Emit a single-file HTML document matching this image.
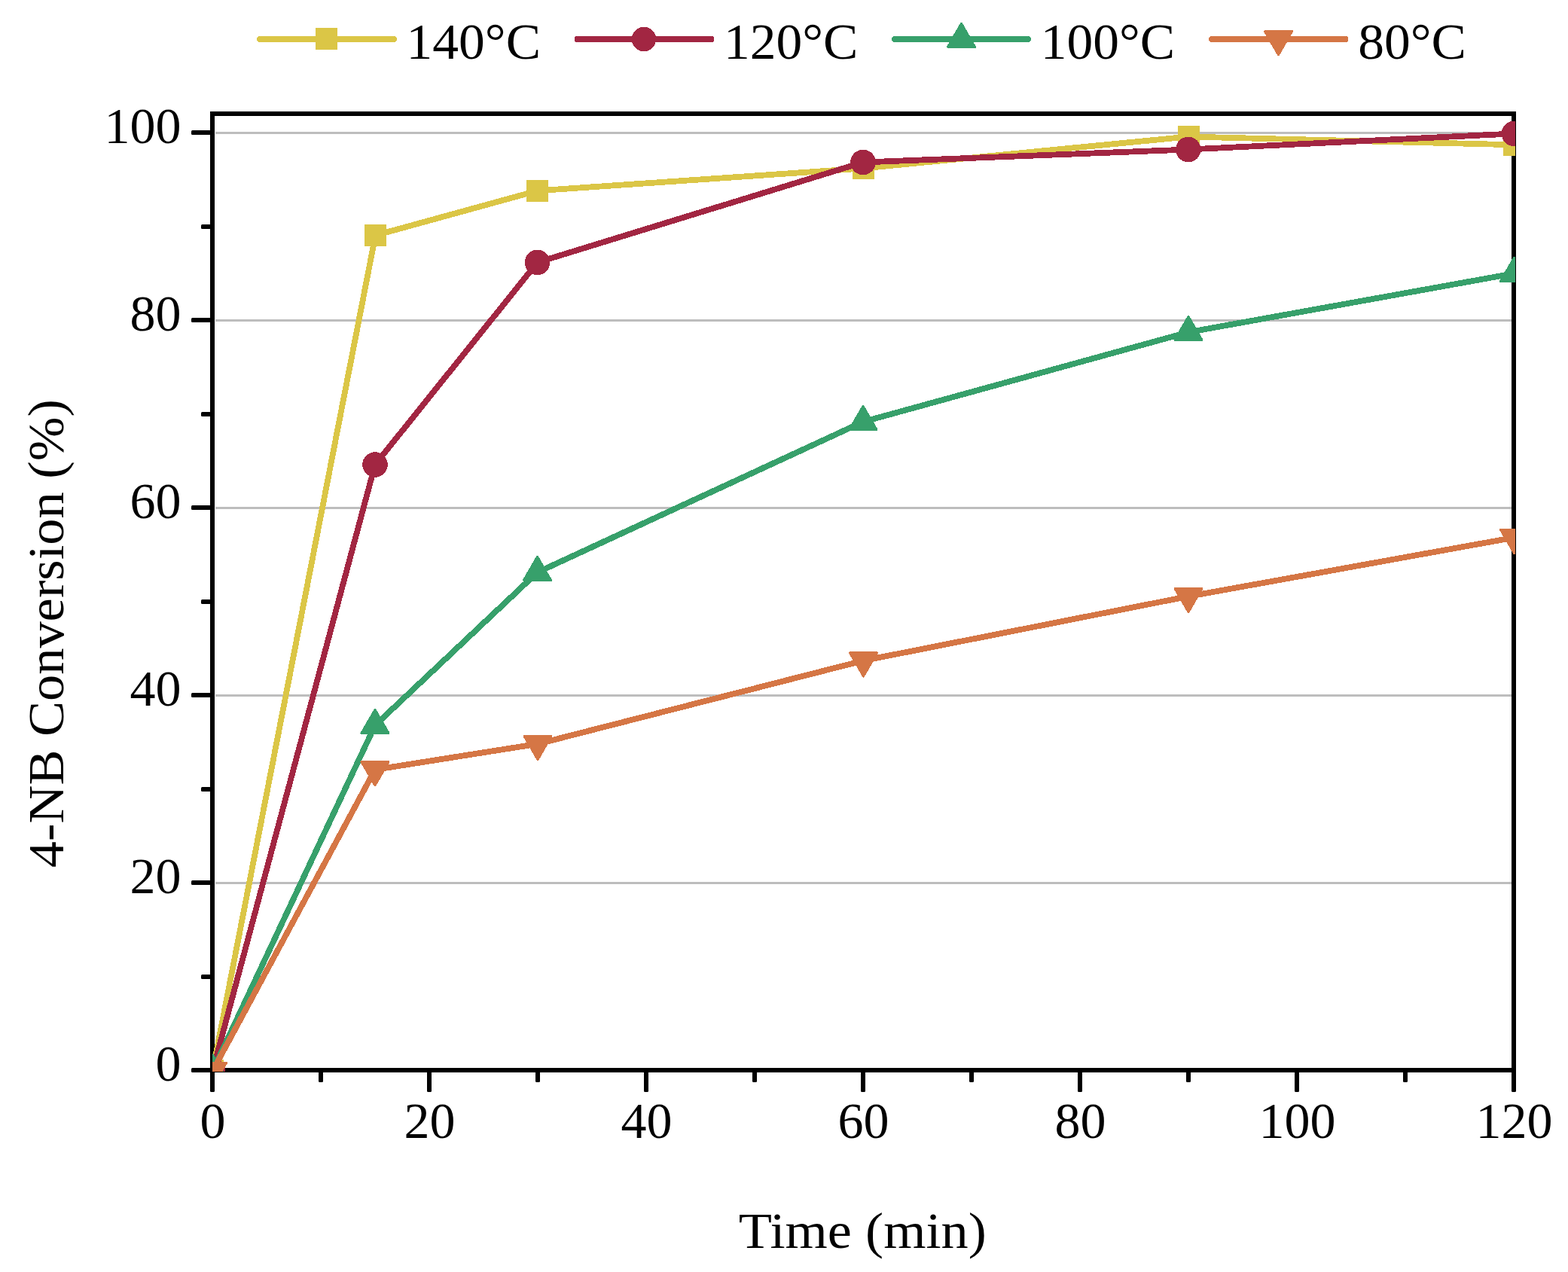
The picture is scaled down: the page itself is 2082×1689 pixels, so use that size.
<!DOCTYPE html>
<html lang="en"><head><meta charset="utf-8"><title>4-NB Conversion vs Time</title>
<style>html,body{margin:0;padding:0;background:#fff}body{width:2082px;height:1689px;overflow:hidden}svg{display:block}</style>
</head><body>
<svg width="2082" height="1689" viewBox="0 0 2082 1689">
<rect width="2082" height="1689" fill="#fff"/>
<defs><clipPath id="cp"><rect x="282" y="148" width="1730" height="1275"/></clipPath></defs>
<rect x="286" y="1171" width="1721" height="3" fill="#bdbdbd"/>
<rect x="286" y="922" width="1721" height="3" fill="#bdbdbd"/>
<rect x="286" y="673" width="1721" height="3" fill="#bdbdbd"/>
<rect x="286" y="424" width="1721" height="3" fill="#bdbdbd"/>
<rect x="286" y="175" width="1721" height="3" fill="#bdbdbd"/>
<g fill="#000">
<rect x="279" y="148" width="6" height="1276"/>
<rect x="2007" y="148" width="6" height="1276"/>
<rect x="279" y="148" width="1734" height="6"/>
<rect x="279" y="1418" width="1734" height="6"/>
</g>
<g fill="#000">
<rect x="254" y="1418" width="26" height="6" rx="1.5"/>
<rect x="267" y="1294" width="13" height="6" rx="1.5"/>
<rect x="254" y="1169" width="26" height="6" rx="1.5"/>
<rect x="267" y="1045" width="13" height="6" rx="1.5"/>
<rect x="254" y="920" width="26" height="6" rx="1.5"/>
<rect x="267" y="796" width="13" height="6" rx="1.5"/>
<rect x="254" y="671" width="26" height="6" rx="1.5"/>
<rect x="267" y="547" width="13" height="6" rx="1.5"/>
<rect x="254" y="422" width="26" height="6" rx="1.5"/>
<rect x="267" y="298" width="13" height="6" rx="1.5"/>
<rect x="254" y="173" width="26" height="6" rx="1.5"/>
<rect x="279" y="1422" width="6" height="28" rx="1.5"/>
<rect x="423" y="1422" width="6" height="15" rx="1.5"/>
<rect x="567" y="1422" width="6" height="28" rx="1.5"/>
<rect x="711" y="1422" width="6" height="15" rx="1.5"/>
<rect x="855" y="1422" width="6" height="28" rx="1.5"/>
<rect x="999" y="1422" width="6" height="15" rx="1.5"/>
<rect x="1143" y="1422" width="6" height="28" rx="1.5"/>
<rect x="1287" y="1422" width="6" height="15" rx="1.5"/>
<rect x="1431" y="1422" width="6" height="28" rx="1.5"/>
<rect x="1575" y="1422" width="6" height="15" rx="1.5"/>
<rect x="1719" y="1422" width="6" height="28" rx="1.5"/>
<rect x="1863" y="1422" width="6" height="15" rx="1.5"/>
<rect x="2007" y="1422" width="6" height="28" rx="1.5"/>
</g>
<g clip-path="url(#cp)" shape-rendering="crispEdges">
<polyline points="282.5,1421.5 498.5,312.5 713.6,253.3 1146.1,223.5 1578.0,181.5 2010.5,192.3" fill="none" stroke="#DBC646" stroke-width="7.8" stroke-linejoin="round" stroke-linecap="round"/>
<rect x="268.0" y="1407.0" width="29" height="29" fill="#DBC646"/>
<rect x="484.0" y="298.0" width="29" height="29" fill="#DBC646"/>
<rect x="699.1" y="238.8" width="29" height="29" fill="#DBC646"/>
<rect x="1131.6" y="209.0" width="29" height="29" fill="#DBC646"/>
<rect x="1563.5" y="167.0" width="29" height="29" fill="#DBC646"/>
<rect x="1996.0" y="177.8" width="29" height="29" fill="#DBC646"/>
<polyline points="282.5,1421.5 498.0,617.0 713.6,348.4 1146.0,215.5 1577.8,198.5 2010.5,177.4" fill="none" stroke="#A22642" stroke-width="7.8" stroke-linejoin="round" stroke-linecap="round"/>
<circle cx="282.5" cy="1421.5" r="16.8" fill="#A22642"/>
<circle cx="498.0" cy="617.0" r="16.8" fill="#A22642"/>
<circle cx="713.6" cy="348.4" r="16.8" fill="#A22642"/>
<circle cx="1146.0" cy="215.5" r="16.8" fill="#A22642"/>
<circle cx="1577.8" cy="198.5" r="16.8" fill="#A22642"/>
<circle cx="2010.5" cy="177.4" r="16.8" fill="#A22642"/>
<polyline points="282.5,1421.5 498.0,963.1 713.5,760.0 1146.0,560.1 1578.0,441.1 2010.5,363.1" fill="none" stroke="#37A06B" stroke-width="7.8" stroke-linejoin="round" stroke-linecap="round"/>
<polygon points="264.5,1431.9 300.5,1431.9 282.5,1400.7" fill="#37A06B" stroke="#37A06B" stroke-width="3" stroke-linejoin="round"/>
<polygon points="480.0,973.5 516.0,973.5 498.0,942.3" fill="#37A06B" stroke="#37A06B" stroke-width="3" stroke-linejoin="round"/>
<polygon points="695.5,770.4 731.5,770.4 713.5,739.3" fill="#37A06B" stroke="#37A06B" stroke-width="3" stroke-linejoin="round"/>
<polygon points="1128.0,570.5 1164.0,570.5 1146.0,539.3" fill="#37A06B" stroke="#37A06B" stroke-width="3" stroke-linejoin="round"/>
<polygon points="1560.0,451.5 1596.0,451.5 1578.0,420.3" fill="#37A06B" stroke="#37A06B" stroke-width="3" stroke-linejoin="round"/>
<polygon points="1992.5,373.5 2028.5,373.5 2010.5,342.3" fill="#37A06B" stroke="#37A06B" stroke-width="3" stroke-linejoin="round"/>
<polyline points="282.5,1421.7 498.0,1022.0 714.0,987.8 1146.5,877.2 1578.0,791.9 2010.5,713.8" fill="none" stroke="#D57645" stroke-width="7.8" stroke-linejoin="round" stroke-linecap="round"/>
<polygon points="264.5,1411.3 300.5,1411.3 282.5,1442.5" fill="#D57645" stroke="#D57645" stroke-width="3" stroke-linejoin="round"/>
<polygon points="480.0,1011.6 516.0,1011.6 498.0,1042.8" fill="#D57645" stroke="#D57645" stroke-width="3" stroke-linejoin="round"/>
<polygon points="696.0,977.4 732.0,977.4 714.0,1008.6" fill="#D57645" stroke="#D57645" stroke-width="3" stroke-linejoin="round"/>
<polygon points="1128.5,866.8 1164.5,866.8 1146.5,898.0" fill="#D57645" stroke="#D57645" stroke-width="3" stroke-linejoin="round"/>
<polygon points="1560.0,781.5 1596.0,781.5 1578.0,812.7" fill="#D57645" stroke="#D57645" stroke-width="3" stroke-linejoin="round"/>
<polygon points="1992.5,703.4 2028.5,703.4 2010.5,734.6" fill="#D57645" stroke="#D57645" stroke-width="3" stroke-linejoin="round"/>
</g>
<g shape-rendering="crispEdges">
<line x1="344.9" y1="52" x2="523.1" y2="52" stroke="#DBC646" stroke-width="7.8" stroke-linecap="round"/>
<rect x="419.0" y="37.0" width="29" height="29" fill="#DBC646"/>
<line x1="766.4" y1="52" x2="944.6" y2="52" stroke="#A22642" stroke-width="7.8" stroke-linecap="round"/>
<circle cx="855.0" cy="52.0" r="16.2" fill="#A22642"/>
<line x1="1187.9" y1="52" x2="1365.1" y2="52" stroke="#37A06B" stroke-width="7.8" stroke-linecap="round"/>
<polygon points="1258.5,62.4 1294.5,62.4 1276.5,31.2" fill="#37A06B" stroke="#37A06B" stroke-width="3" stroke-linejoin="round"/>
<line x1="1608.9" y1="52" x2="1786.6" y2="52" stroke="#D57645" stroke-width="7.8" stroke-linecap="round"/>
<polygon points="1679.5,41.6 1715.5,41.6 1697.5,72.8" fill="#D57645" stroke="#D57645" stroke-width="3" stroke-linejoin="round"/>
</g>
<g font-family='"Liberation Serif", serif' font-size="68" fill="#000">
<text transform="translate(628.8,77.9) scale(1.022,1)" text-anchor="middle">140°C</text>
<text transform="translate(1050.2,77.9) scale(1.022,1)" text-anchor="middle">120°C</text>
<text transform="translate(1471.0,77.9) scale(1.022,1)" text-anchor="middle">100°C</text>
<text transform="translate(1875.0,77.9) scale(1.022,1)" text-anchor="middle">80°C</text>
<text x="240.6" y="1434.9" text-anchor="end">0</text>
<text x="240.6" y="1185.9" text-anchor="end">20</text>
<text x="240.6" y="936.9" text-anchor="end">40</text>
<text x="240.6" y="687.9" text-anchor="end">60</text>
<text x="240.6" y="438.9" text-anchor="end">80</text>
<text x="240.6" y="189.9" text-anchor="end">100</text>
<text x="282.5" y="1511.2" text-anchor="middle">0</text>
<text x="570.5" y="1511.2" text-anchor="middle">20</text>
<text x="858.5" y="1511.2" text-anchor="middle">40</text>
<text x="1146.5" y="1511.2" text-anchor="middle">60</text>
<text x="1434.5" y="1511.2" text-anchor="middle">80</text>
<text x="1722.5" y="1511.2" text-anchor="middle">100</text>
<text x="2010.5" y="1511.2" text-anchor="middle">120</text>
<text transform="translate(1145.3,1657.2) scale(1.064,1)" text-anchor="middle">Time (min)</text>
<text transform="translate(84.4,841.1) rotate(-90) scale(1.036,1)" text-anchor="middle">4-NB Conversion (%)</text>
</g>
</svg>
</body></html>
